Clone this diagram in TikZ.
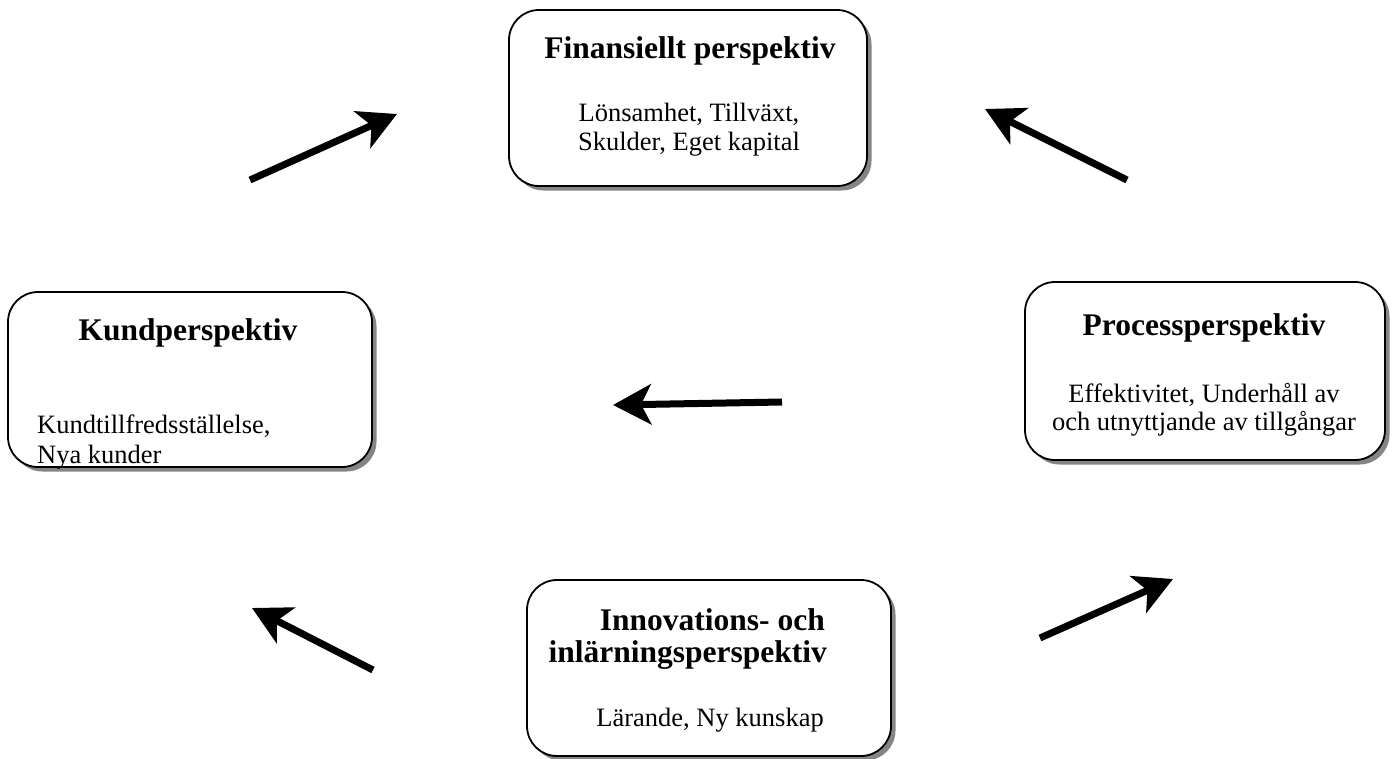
\documentclass[tikz,border=0pt]{standalone}
\usepackage{fontspec}
\setmainfont{Liberation Serif}
\usetikzlibrary{arrows.meta,shadows}
\begin{document}
\begin{tikzpicture}[x=1pt,y=-1pt,
  box/.style={draw, line width=1.8pt, rounded corners=30pt, fill=white, inner sep=0pt,
    drop shadow={shadow xshift=4.5pt, shadow yshift=-4.5pt, fill=black!60, opacity=0.8}},
  ttl/.style={font=\fontsize{31.5}{29}\selectfont\bfseries, inner sep=0pt, anchor=base},
  txt/.style={font=\fontsize{26.5}{30}\selectfont, inner sep=0pt, anchor=base},
  bigarrow/.style={line width=7pt, -{Stealth[length=38pt,width=40pt,inset=10pt]}}]
\useasboundingbox (0,0) rectangle (1394,758);

\node[box, minimum width=358pt, minimum height=176pt] (fin) at (688,98) {};
\node[box, minimum width=364pt, minimum height=175pt] (kund) at (190,379.5) {};
\node[box, minimum width=360pt, minimum height=178pt] (proc) at (1205,371) {};
\node[box, minimum width=364pt, minimum height=176pt] (inno) at (709,668) {};

\node[ttl] (finT) at (690,58) {Finansiellt perspektiv};
\node[txt] (finB1) at (689,121) {Lönsamhet, Tillväxt,};
\node[txt] (finB2) at (689,150) {Skulder, Eget kapital};

\node[ttl] (kundT) at (188,340) {Kundperspektiv};
\node[txt, anchor=base west] (kundB1) at (37,433) {Kundtillfredsställelse,};
\node[txt, anchor=base west] (kundB2) at (37,463) {Nya kunder};

\node[ttl] (procT) at (1204,335) {Processperspektiv};
\node[txt] (procB1) at (1204,402) {Effektivitet, Underhåll av};
\node[txt] (procB2) at (1204,430) {och utnyttjande av tillgångar};

\node[ttl, anchor=base east] (innoT1) at (825,630) {Innovations- och};
\node[ttl, anchor=base east] (innoT2) at (827,662) {inlärningsperspektiv};
\node[txt, anchor=base east] (innoB) at (824,726) {Lärande, Ny kunskap};

\coordinate (a1s) at (250,180); \coordinate (a1e) at (397,114);
\coordinate (a2s) at (1127,180); \coordinate (a2e) at (985,109);
\coordinate (a3s) at (782,402); \coordinate (a3e) at (613,405);
\coordinate (a4s) at (373,670); \coordinate (a4e) at (252,608);
\coordinate (a5s) at (1040,638); \coordinate (a5e) at (1173,579);

\draw[bigarrow] (a1s) -- (a1e);
\draw[bigarrow] (a2s) -- (a2e);
\draw[bigarrow] (a3s) -- (a3e);
\draw[bigarrow] (a4s) -- (a4e);
\draw[bigarrow] (a5s) -- (a5e);
\end{tikzpicture}
\end{document}
